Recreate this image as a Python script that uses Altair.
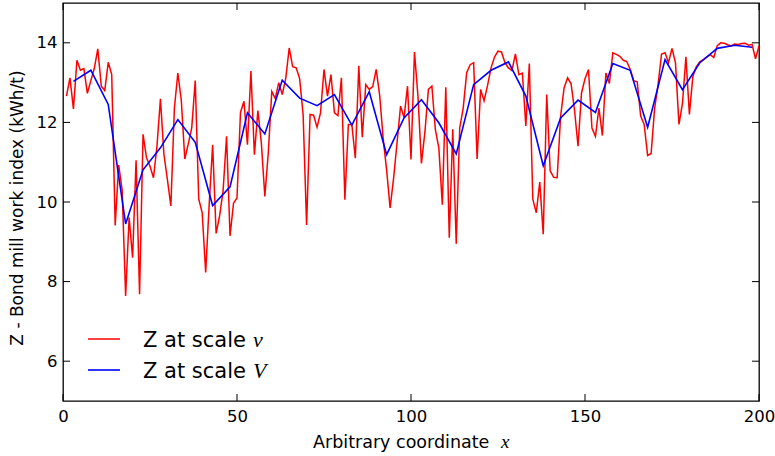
import altair as alt
import pandas as pd

# ---------------- data ----------------
red_x = list(range(1, 201))
red_z = [
    12.66, 13.12, 12.34, 13.56, 13.31, 13.35, 12.73, 13.05, 13.36, 13.85,
    12.91, 12.80, 13.51, 13.20, 9.41, 10.93, 10.30, 7.64, 9.61, 8.60,
    11.05, 7.68, 11.70, 11.11, 10.90, 10.61, 11.40, 12.59, 11.20, 10.56,
    9.90, 12.35, 13.24, 12.55, 11.08, 11.46, 11.87, 13.05, 10.08, 9.73,
    8.23, 9.93, 11.44, 9.21, 9.65, 10.28, 11.65, 9.15, 9.97, 10.10,
    12.25, 12.53, 11.44, 13.29, 11.19, 12.30, 11.48, 10.14, 11.25, 12.78,
    12.60, 13.00, 12.70, 13.10, 13.87, 13.40, 13.37, 13.10, 12.20, 9.42,
    12.20, 12.18, 11.88, 12.24, 13.33, 12.66, 13.20, 12.24, 12.17, 13.12,
    10.06, 11.95, 11.95, 11.10, 13.42, 11.63, 12.95, 12.83, 12.90, 13.33,
    12.68, 11.60, 10.80, 9.85, 10.60, 11.50, 12.41, 12.12, 12.91, 11.07,
    13.77, 12.66, 10.97, 11.76, 12.83, 12.91, 11.82, 11.36, 9.93, 12.88,
    9.10, 11.83, 8.95, 11.86, 12.36, 13.25, 13.45, 13.50, 11.08, 12.83,
    12.54, 12.93, 13.37, 13.64, 13.79, 13.77, 13.50, 13.37, 13.30, 13.72,
    13.20, 13.24, 11.91, 13.48, 10.07, 9.73, 10.50, 9.19, 12.70, 10.78,
    10.62, 10.61, 12.16, 12.87, 13.12, 12.97, 12.30, 11.40, 12.74, 13.10,
    13.33, 11.86, 11.65, 12.36, 11.67, 13.24, 12.98, 13.75, 13.71, 13.66,
    13.56, 13.53, 13.33, 13.05, 13.02, 12.16, 11.95, 11.17, 11.22, 12.35,
    12.95, 13.72, 13.75, 13.50, 13.86, 13.50, 11.95, 12.47, 13.65, 12.20,
    13.16, 13.40, 13.52, 13.58, 13.64, 13.70, 13.63, 13.93, 14.00, 13.99,
    13.95, 13.92, 13.97, 13.96, 13.98, 13.99, 13.94, 13.96, 13.60, 13.93,
]
blue_x = list(range(3, 200, 5))
blue_z = [
    13.03, 13.31, 12.45, 9.45, 10.81, 11.36, 12.07, 11.50, 9.91, 10.38,
    12.24, 11.71, 13.06, 12.61, 12.42, 12.70, 11.93, 12.77, 11.19, 12.11,
    12.57, 11.99, 11.21, 12.95, 13.31, 13.52, 12.66, 10.91, 12.11, 12.56,
    12.25, 13.48, 13.31, 11.88, 13.58, 12.82, 13.50, 13.86, 13.94, 13.89,
]
x_ticks = [0, 50, 100, 150, 200]
y_ticks = [6, 8, 10, 12, 14]
x_domain = [0, 200]
y_domain = [5, 15]

# ---------------- layout / style ----------------
W, H = 696, 398
FONT = "DejaVu Sans"
MATH = "Liberation Serif"
TICK = 7

red_df = pd.DataFrame({"x": red_x, "z": red_z})
blue_df = pd.DataFrame({"x": blue_x, "z": blue_z})
xt_df = pd.DataFrame({"x": x_ticks})
yt_df = pd.DataFrame({"z": y_ticks})
one = pd.DataFrame({"a": [0]})

xs = alt.Scale(domain=x_domain, nice=False, zero=False)
ys = alt.Scale(domain=y_domain, nice=False, zero=False)

x_axis = alt.Axis(values=x_ticks, tickSize=0, labelPadding=7, title=None,
                  domain=False, grid=False, labelFontSize=16.5, labelFlush=False,
                  labelColor="black", labelFont=FONT)
y_axis = alt.Axis(values=y_ticks, tickSize=0, labelPadding=6, title=None,
                  domain=False, grid=False, labelFontSize=16.5, labelFlush=False,
                  labelColor="black", labelFont=FONT)

X = alt.X("x:Q", scale=xs, axis=x_axis)
Y = alt.Y("z:Q", scale=ys, axis=y_axis)

red_line = alt.Chart(red_df).mark_line(color="#ff0000", strokeWidth=1.5).encode(x=X, y=Y)
blue_line = alt.Chart(blue_df).mark_line(color="#0000ff", strokeWidth=1.6).encode(x=X, y=Y)

# inward ticks on all four sides
tick_kw = dict(color="black", strokeWidth=1)
yl = alt.Chart(yt_df).mark_rule(**tick_kw).encode(y=Y, x=alt.value(0), x2=alt.value(TICK))
yr = alt.Chart(yt_df).mark_rule(**tick_kw).encode(y=Y, x=alt.value(W - TICK), x2=alt.value(W))
xb = alt.Chart(xt_df).mark_rule(**tick_kw).encode(x=X, y=alt.value(H - TICK), y2=alt.value(H))
xtop = alt.Chart(xt_df).mark_rule(**tick_kw).encode(x=X, y=alt.value(0), y2=alt.value(TICK))

# axis titles
ytitle = alt.Chart(one).mark_text(angle=270, align="center", baseline="middle",
                                  fontSize=17, font=FONT, color="black").encode(
    x=alt.value(-45), y=alt.value(H / 2 + 6),
    text=alt.value("Z - Bond mill work index (kWh/t)"))
xtitle = alt.Chart(one).mark_text(align="left", baseline="alphabetic",
                                  fontSize=17.5, font=FONT, color="black").encode(
    x=alt.value(250), y=alt.value(445), text=alt.value("Arbitrary coordinate"))
xtitle_m = alt.Chart(one).mark_text(align="left", baseline="alphabetic",
                                    fontSize=19, font=MATH, fontStyle="italic",
                                    color="black").encode(
    x=alt.value(438), y=alt.value(445), text=alt.value("x"))

# legend (drawn inside lower left)
leg_r = alt.Chart(one).mark_rule(color="#ff0000", strokeWidth=1.5).encode(
    x=alt.value(25), x2=alt.value(57), y=alt.value(336))
leg_b = alt.Chart(one).mark_rule(color="#0000ff", strokeWidth=1.6).encode(
    x=alt.value(25), x2=alt.value(57), y=alt.value(367))
leg_rt = alt.Chart(one).mark_text(align="left", baseline="alphabetic", fontSize=21,
                                  font=FONT, color="black").encode(
    x=alt.value(80), y=alt.value(344), text=alt.value("Z at scale"))
leg_bt = alt.Chart(one).mark_text(align="left", baseline="alphabetic", fontSize=21,
                                  font=FONT, color="black").encode(
    x=alt.value(80), y=alt.value(375), text=alt.value("Z at scale"))
leg_rm = alt.Chart(one).mark_text(align="left", baseline="alphabetic", fontSize=22,
                                  font=MATH, fontStyle="italic", color="black").encode(
    x=alt.value(190), y=alt.value(344), text=alt.value("v"))
leg_bm = alt.Chart(one).mark_text(align="left", baseline="alphabetic", fontSize=22,
                                  font=MATH, fontStyle="italic", color="black").encode(
    x=alt.value(190), y=alt.value(375), text=alt.value("V"))

chart = alt.layer(
    red_line, blue_line, yl, yr, xb, xtop, ytitle, xtitle, xtitle_m,
    leg_r, leg_b, leg_rt, leg_bt, leg_rm, leg_bm,
).properties(
    width=W, height=H,
    padding={"left": 63, "top": 3, "right": 16, "bottom": 55},
    autosize=alt.AutoSizeParams(type="none"),
    background="white",
).configure_view(stroke="black", strokeWidth=1.3)

chart.save("out.html", embed_options={"renderer": "svg", "actions": False})
